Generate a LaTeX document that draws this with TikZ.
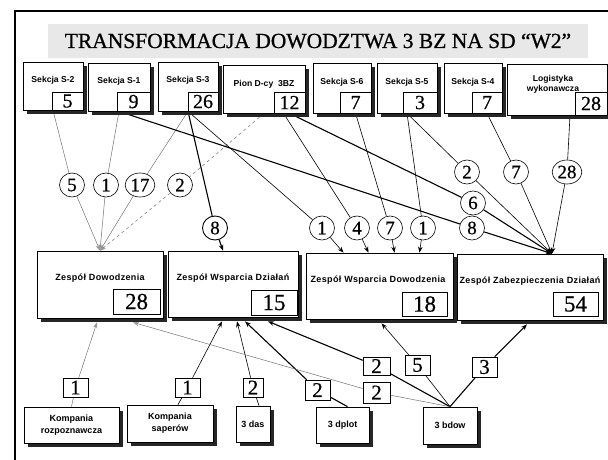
\documentclass[tikz,border=0pt]{standalone}
\usepackage{fontspec}
\setmainfont{Liberation Serif}
\newfontfamily\headfont{Liberation Serif}[FakeBold=0.8]
\newfontfamily\digitfont{Liberation Serif}[FakeBold=0.5]
\newfontfamily\secfont{Liberation Sans}
\newfontfamily\teamfont{Liberation Sans}[LetterSpace=4]
\usetikzlibrary{shadows,shapes.geometric,backgrounds,arrows.meta}

\begin{document}
\begin{tikzpicture}[x=1pt,y=-1pt,
  unitbox/.style={draw=black,line width=0.7pt,fill=white,inner sep=0pt,
    drop shadow={shadow xshift=4pt,shadow yshift=-4pt,fill=black!85,opacity=1}},
  boxtext/.style={inner sep=0pt,align=center},
  sectext/.style={boxtext,font=\secfont\bfseries\fontsize{8.6}{10}\selectfont},
  teamtext/.style={boxtext,font=\teamfont\bfseries\fontsize{9}{11}\selectfont},
  unittext/.style={boxtext,font=\secfont\bfseries\fontsize{9}{12}\selectfont},
  numsmall/.style={draw=black,line width=0.6pt,fill=white,inner sep=0pt,
    anchor=south east,font=\digitfont\fontsize{20}{20}\selectfont},
  numbig/.style={draw=black,line width=0.6pt,fill=white,inner sep=0pt,
    anchor=south east,font=\digitfont\fontsize{23}{23}\selectfont},
  tally/.style={ellipse,draw=black,line width=0.6pt,fill=white,inner sep=1pt,
    minimum width=25pt,minimum height=24pt,font=\digitfont\fontsize{19}{19}\selectfont},
  qtag/.style={draw=black,line width=0.6pt,fill=white,inner sep=0pt,
    minimum width=25pt,font=\digitfont\fontsize{21}{21}\selectfont},
  wire/.style={line width=0.6pt,black},
  heavywire/.style={line width=1.1pt,black},
  faintwire/.style={line width=0.5pt,black!55},
  arrowend/.style={-{Stealth[length=6pt,width=4.5pt]}},
  greyarrow/.style={-{Stealth[length=6pt,width=4.5pt,color=black!40]}},
]
\useasboundingbox (0,0) rectangle (608,460);

% frame and heading
\draw[line width=1.6pt] (15,460) -- (15,11) -- (608,11);
\node[fill=black!9,minimum width=540pt,minimum height=34pt,inner sep=0pt,
  font=\headfont\fontsize{21.5}{24}\selectfont] (title) at (318,41)
  {TRANSFORMACJA DOWODZTWA 3 BZ NA SD “W2”};

% top row: sections
\node[unitbox,minimum width=60pt,minimum height=48pt] (s2) at (53,86) {};
\node[sectext] (s2t) at (53,80) {Sekcja S-2};
\node[numsmall,minimum width=31pt,minimum height=18pt] (n2) at (s2.south east) {5};

\node[unitbox,minimum width=62pt,minimum height=48pt] (s1) at (119,87) {};
\node[sectext] (s1t) at (119,81) {Sekcja S-1};
\node[numsmall,minimum width=33pt,minimum height=19pt] (n1) at (s1.south east) {9};

\node[unitbox,minimum width=60pt,minimum height=49pt] (s3) at (188,86.5) {};
\node[sectext] (s3t) at (188,80) {Sekcja S-3};
\node[numsmall,minimum width=30pt,minimum height=19pt] (n3) at (s3.south east) {26};

\node[unitbox,minimum width=82pt,minimum height=48pt] (plon) at (264,89) {};
\node[sectext] (plont) at (264,84) {Pion D-cy~~3BZ};
\node[numsmall,minimum width=31pt,minimum height=21pt] (n12) at (plon.south east) {12};

\node[unitbox,minimum width=58pt,minimum height=50pt] (s6) at (342,88) {};
\node[sectext] (s6t) at (342,82) {Sekcja S-6};
\node[numsmall,minimum width=31pt,minimum height=21pt] (n6) at (s6.south east) {7};

\node[unitbox,minimum width=60pt,minimum height=50pt] (s5) at (407,88) {};
\node[sectext] (s5t) at (407,82) {Sekcja S-5};
\node[numsmall,minimum width=34pt,minimum height=21pt] (n5) at (s5.south east) {3};

\node[unitbox,minimum width=58pt,minimum height=50pt] (s4) at (473,88) {};
\node[sectext] (s4t) at (473,82) {Sekcja S-4};
\node[numsmall,minimum width=30pt,minimum height=21pt] (n4) at (s4.south east) {7};

\node[unitbox,minimum width=100pt,minimum height=51pt] (log) at (557,89.5) {};
\node[sectext] (logt) at (553,84) {Logistyka\\wykonawcza};
\node[numsmall,minimum width=32pt,minimum height=23pt] (n28) at (log.south east) {28};

% middle row: teams
\node[unitbox,minimum width=126pt,minimum height=67pt] (zd) at (100,284.5) {};
\node[teamtext] (zdt) at (100,278) {Zespół Dowodzenia};
\node[numbig,minimum width=47pt,minimum height=25pt] (nzd) at ([xshift=-3pt,yshift=4pt]zd.south east) {28};

\node[unitbox,minimum width=130pt,minimum height=66pt] (zwd) at (233,284) {};
\node[teamtext] (zwdt) at (233,278) {Zespół Wsparcia Działań};
\node[numbig,minimum width=46pt,minimum height=25pt] (nzwd) at ([xshift=-1pt,yshift=2pt]zwd.south east) {15};

\node[unitbox,minimum width=147pt,minimum height=66pt] (zwdow) at (379.5,286) {};
\node[teamtext] (zwdowt) at (378,280) {Zespół Wsparcia Dowodzenia};
\node[numbig,minimum width=45pt,minimum height=24pt] (nzwdow) at ([xshift=-6pt,yshift=3pt]zwdow.south east) {18};

\node[unitbox,minimum width=146pt,minimum height=66pt] (zzd) at (530,287) {};
\node[teamtext] (zzdt) at (530,281) {Zespół Zabezpieczenia Działań};
\node[numbig,minimum width=45pt,minimum height=24pt] (nzzd) at ([xshift=-5pt,yshift=4pt]zzd.south east) {54};

% bottom row: subunits
\node[unitbox,minimum width=95pt,minimum height=36pt] (kr) at (71.5,425) {};
\node[unittext] (krt) at (71.5,425) {Kompania\\rozpoznawcza};
\node[unitbox,minimum width=86pt,minimum height=37pt] (ks) at (170,423.5) {};
\node[unittext] (kst) at (170,423.5) {Kompania\\saperów};
\node[unitbox,minimum width=34pt,minimum height=36pt] (das) at (253,424) {};
\node[unittext] (dast) at (253,424) {3 das};
\node[unitbox,minimum width=53pt,minimum height=36pt] (dplot) at (342.5,425) {};
\node[unittext] (dplott) at (342.5,425) {3 dplot};
\node[unitbox,minimum width=54pt,minimum height=37pt] (bdow) at (450,425.5) {};
\node[unittext] (bdowt) at (450,425.5) {3 bdow};

% headcount circles
\node[tally] (c5) at (72,185) {5};
\node[tally] (c1a) at (106,185) {1};
\node[tally] (c17) at (140,185) {17};
\node[tally] (c2a) at (180,185) {2};
\node[tally,line width=0.9pt] (c8a) at (215,228) {8};
\node[tally] (c1b) at (322,228) {1};
\node[tally] (c4) at (357,228) {4};
\node[tally] (c7a) at (390,228) {7};
\node[tally] (c1c) at (423,228) {1};
\node[tally] (c2b) at (467,172) {2};
\node[tally] (c7b) at (516,172) {7};
\node[tally] (c28) at (567,172) {28};
\node[tally] (c6) at (473,203) {6};
\node[tally] (c8b) at (472,228) {8};

% headcount tags
\node[qtag,minimum height=19pt] (q1a) at (75.5,387.5) {1};
\node[qtag,minimum height=19pt] (q1b) at (187.5,387.5) {1};
\node[qtag,minimum height=19pt,minimum width=20pt] (q2a) at (253,387.5) {2};
\node[qtag,minimum height=20pt] (q2b) at (317.5,390) {2};
\node[qtag,minimum height=18pt,minimum width=27pt] (q2c) at (376.5,366) {2};
\node[qtag,minimum height=21pt,minimum width=27pt] (q2d) at (376.5,392.5) {2};
\node[qtag,minimum height=20pt] (q5) at (417.5,365) {5};
\node[qtag,minimum height=20pt] (q3) at (484.5,367) {3};

\begin{scope}[on background layer]
  % sections into Zespół Dowodzenia
  \draw[faintwire] (s2.south) -- (c5);
  \draw[faintwire,greyarrow] (c5) -- (zd.north);
  \draw[faintwire] (s1.south) -- (c1a);
  \draw[faintwire,greyarrow] (c1a) -- (zd.north);
  \draw[faintwire] (s3.south) -- (c17);
  \draw[faintwire,greyarrow] (c17) -- (zd.north);
  \draw[faintwire,dashed] (plon.south) -- (c2a);
  \draw[faintwire,dashed,greyarrow] (c2a) -- (zd.north);

  % into Zespół Wsparcia Działań
  \draw[heavywire] (s3.south) -- (c8a);
  \draw[heavywire,arrowend] (c8a) -- ([xshift=-10pt]zwd.north);

  % into Zespół Wsparcia Dowodzenia
  \draw[wire] (s3.south) -- (c1b);
  \draw[wire,arrowend] (c1b) -- ([xshift=-36pt]zwdow.north);
  \draw[wire] ([xshift=-6pt]n12.south) -- (c4);
  \draw[wire,arrowend] (c4) -- ([xshift=-11pt]zwdow.north);
  \draw[wire] (n6.south) -- (c7a);
  \draw[wire,arrowend] (c7a) -- ([xshift=15pt]zwdow.north);
  \draw[wire] (s5.south) -- (c1c);
  \draw[wire,arrowend] (c1c) -- ([xshift=40pt]zwdow.north);

  % into Zespół Zabezpieczenia Działań
  \coordinate (zzdin) at ([xshift=22pt]zzd.north);
  \draw[wire] (s5.south) -- (c2b);
  \draw[wire,arrowend] (c2b) -- (zzdin);
  \draw[wire] (n4.south) -- (c7b);
  \draw[wire,arrowend] (c7b) -- (zzdin);
  \draw[wire] ([xshift=13pt]log.south) -- (c28);
  \draw[wire,arrowend] (c28) -- (zzdin);
  \draw[heavywire] (n12.south) -- (c6);
  \draw[heavywire,arrowend] (c6) -- (zzdin);
  \draw[heavywire] (s1.south) -- (c8b);
  \draw[heavywire,arrowend] (c8b) -- (zzdin);

  % subunits up to the teams
  \draw[faintwire] (kr.north) -- (q1a);
  \draw[faintwire,greyarrow] (q1a) -- ([xshift=-3pt,yshift=-4pt]zd.south);
  \draw[wire] ([xshift=8pt]ks.north) -- (q1b);
  \draw[wire,arrowend] (q1b) -- ([xshift=-11pt,yshift=-4pt]zwd.south);
  \draw[wire] ([xshift=6pt]das.north) -- (q2a);
  \draw[wire,arrowend] (q2a) -- ([xshift=4pt,yshift=-4pt]zwd.south);
  \draw[heavywire] ([xshift=5pt]dplot.north) -- (q2b);
  \draw[heavywire,arrowend] (q2b) -- ([xshift=12pt,yshift=-4pt]zwd.south);
  \draw[heavywire] (bdow.north) -- (q2c);
  \draw[heavywire,arrowend] (q2c) -- ([xshift=35pt,yshift=-4pt]zwd.south);
  \draw[faintwire] (bdow.north) -- (q2d);
  \draw[faintwire,greyarrow] (q2d) -- ([xshift=33pt,yshift=-4pt]zd.south);
  \draw[wire] (bdow.north) -- (q5);
  \draw[wire,arrowend] (q5) -- ([xshift=2pt,yshift=-4pt]zwdow.south);
  \draw[heavywire] (bdow.north) -- (q3);
  \draw[heavywire,arrowend] (q3) -- ([xshift=-3pt,yshift=-4pt]zzd.south);
\end{scope}
\end{tikzpicture}
\end{document}
